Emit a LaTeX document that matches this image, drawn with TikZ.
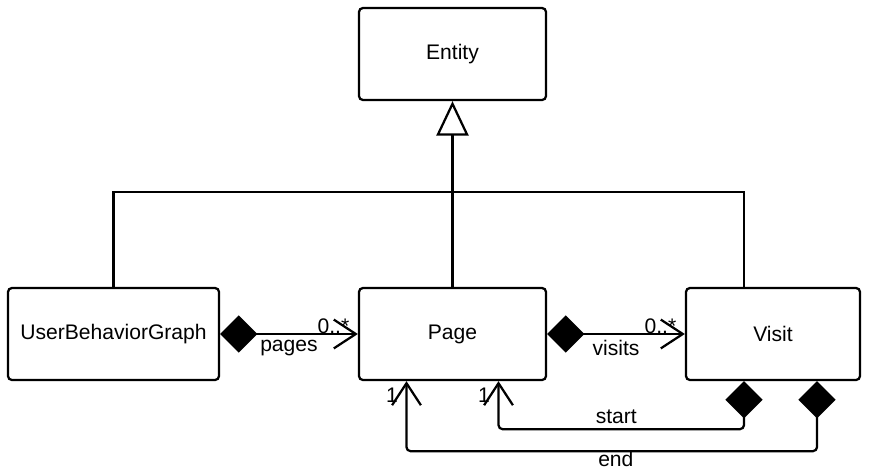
\documentclass[tikz,border=0pt]{standalone}
\usepackage{fontspec}
\setmainfont{Liberation Sans}
\usetikzlibrary{arrows.meta}

\begin{document}
\begin{tikzpicture}[x=0.025cm, y=-0.025cm, line width=1.6pt,
    every node/.style={font=\fontsize{15}{17}\selectfont},
    class/.style={draw, rounded corners=1mm, minimum height=2.3cm, inner sep=0pt},
    comp/.style={{Diamond[length=9.3mm, width=9.3mm]}-{Straight Barb[length=5.5mm, width=7.2mm, line width=1.6pt]}, rounded corners=1mm},
    inherit/.style={-{Triangle[open, length=8.6mm, width=8mm, fill=white]}}]
  \useasboundingbox (0,0) rectangle (871,470);

  \node[class, minimum width=4.675cm] (entity) at (452.5,54) {Entity};
  \node[class, minimum width=5.275cm] (graph) at (113.5,334) {UserBehaviorGraph};
  \node[class, minimum width=4.675cm] (page) at (452.5,334) {Page};
  \node[class, minimum width=4.35cm] (visit) at (773,334) {Visit};
  \coordinate (split) at (452.5,192);

  % generalisation
  \draw (graph.north) |- (split) -| ([xshift=-0.725cm]visit.north);
  \draw[inherit] (page.north) -- (entity.south);

  % compositions
  \draw[comp] (graph) -- (page)
    node[midway, below] {pages} node[pos=1, above left, xshift=-2pt, yshift=-4pt] {0..*};
  \draw[comp] (page) -- (visit)
    node[midway, below] {visits} node[pos=1, above left, xshift=-2pt, yshift=-4pt] {0..*};
  \draw[comp] ([xshift=-0.725cm]visit.south) -- ++(0,48) -| ([xshift=1.15cm]page.south)
    node[pos=0.26, above] {start} node[pos=1, below left, xshift=-2pt, yshift=-1pt] {1};
  \draw[comp] ([xshift=1.1cm]visit.south) -- ++(0,70) -| ([xshift=-1.15cm]page.south)
    node[pos=0.245, below, inner ysep=0pt, yshift=1pt] {end} node[pos=1, below left, xshift=-2pt, yshift=-1pt] {1};
\end{tikzpicture}
\end{document}
